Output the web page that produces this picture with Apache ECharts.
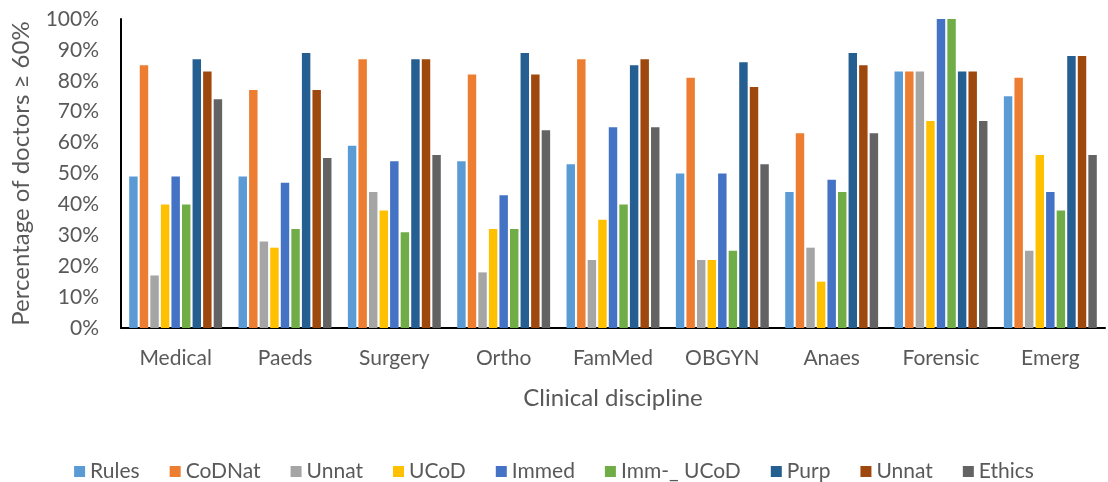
<!DOCTYPE html>
<html>
<head>
<meta charset="utf-8">
<script src="https://cdn.jsdelivr.net/npm/echarts@6/dist/echarts.min.js"></script>
<style>
  html, body { margin: 0; padding: 0; background: #fff; }
  #chart { width: 1108px; height: 482px; }
</style>
</head>
<body>
<div id="chart"></div>
<script>
// clinical disciplines on the x axis
var disciplines = ['Medical', 'Paeds', 'Surgery', 'Ortho', 'FamMed', 'OBGYN', 'Anaes', 'Forensic', 'Emerg'];

// percentage of doctors >= 60%, one list per item
var rules    = [49, 49, 59, 54, 53, 50, 44, 83, 75];
var codnat   = [85, 77, 87, 82, 87, 81, 63, 83, 81];
var unnat1   = [17, 28, 44, 18, 22, 22, 26, 83, 25];
var ucod     = [40, 26, 38, 32, 35, 22, 15, 67, 56];
var immed    = [49, 47, 54, 43, 65, 50, 48, 100, 44];
var immUcod  = [40, 32, 31, 32, 40, 25, 44, 100, 38];
var purp     = [87, 89, 87, 89, 85, 86, 89, 83, 88];
var unnat2   = [83, 77, 87, 82, 87, 78, 85, 83, 88];
var ethics   = [74, 55, 56, 64, 65, 53, 63, 67, 56];

var yTicks = [0, 10, 20, 30, 40, 50, 60, 70, 80, 90, 100];

// second "Unnat" gets a trailing space so the legend keeps both
var seriesList = [
  { name: 'Rules', data: rules, color: '#5B9BD5' },
  { name: 'CoDNat', data: codnat, color: '#ED7D31' },
  { name: 'Unnat', data: unnat1, color: '#A5A5A5' },
  { name: 'UCoD', data: ucod, color: '#FFC000' },
  { name: 'Immed', data: immed, color: '#4472C4' },
  { name: 'Imm-_ UCoD', data: immUcod, color: '#70AD47' },
  { name: 'Purp', data: purp, color: '#255E91' },
  { name: 'Unnat ', data: unnat2, color: '#9E480E' },
  { name: 'Ethics', data: ethics, color: '#636363' }
];

var font = 'Lato, "Open Sans", sans-serif';
var txt = '#595959';

var chart = echarts.init(document.getElementById('chart'));
chart.setOption({
  animation: false,
  textStyle: { fontFamily: font },
  grid: { left: 121, right: 3, top: 19, bottom: 154 },
  legend: {
    top: 456,
    left: 'center',
    itemWidth: 11,
    itemHeight: 11,
    itemGap: 30,
    itemTextGap: 4,
    icon: 'rect',
    textStyle: { fontSize: 21, color: txt, fontFamily: font },
    formatter: function(n) { return n.trim(); },
    data: seriesList.map(function(s) { return s.name; })
  },
  xAxis: {
    type: 'category',
    data: disciplines,
    name: 'Clinical discipline',
    nameLocation: 'middle',
    nameGap: 58,
    nameTextStyle: { fontSize: 24, color: txt, fontFamily: font },
    axisLine: { lineStyle: { color: '#000', width: 2 } },
    axisTick: { show: false },
    axisLabel: { fontSize: 21, color: txt, margin: 20 }
  },
  yAxis: {
    type: 'value',
    min: yTicks[0],
    max: yTicks[yTicks.length - 1],
    interval: 10,
    name: 'Percentage of doctors \u2265 60%',
    nameLocation: 'middle',
    nameGap: 88,
    nameTextStyle: { fontSize: 24, color: txt, fontFamily: font },
    axisLine: { show: true, lineStyle: { color: '#000', width: 2 } },
    axisTick: { show: false },
    splitLine: { show: false },
    axisLabel: { fontSize: 21, color: txt, margin: 22, formatter: '{value}%' }
  },
  series: seriesList.map(function(s) {
    return {
      name: s.name,
      type: 'bar',
      data: s.data,
      barGap: '25%',
      barCategoryGap: '15%',
      itemStyle: { color: s.color }
    };
  })
});
</script>
</body>
</html>
